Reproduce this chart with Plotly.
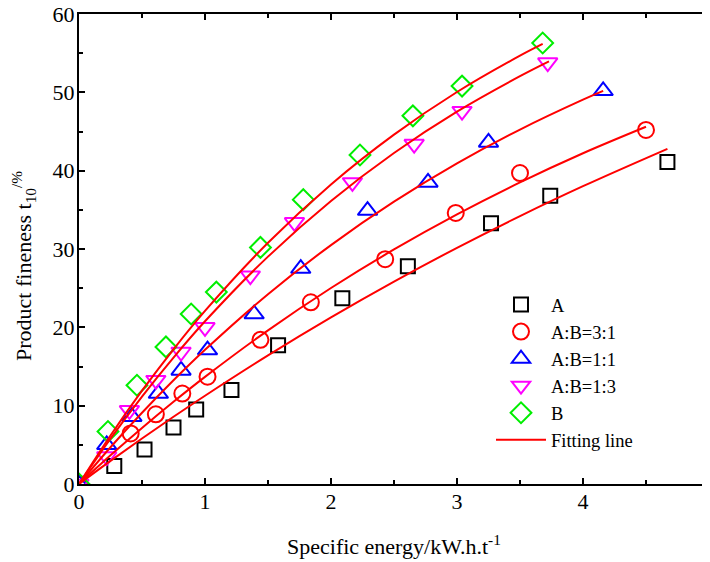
import plotly.graph_objects as go

# ---- data ----
a_x = [0, 0.28, 0.52, 0.75, 0.93, 1.21, 1.58, 2.09, 2.61, 3.27, 3.74, 4.67]
a_y = [0, 2.3, 4.4, 7.2, 9.5, 12.0, 17.7, 23.7, 27.8, 33.3, 36.8, 41.1]

ab31_x = [0, 0.41, 0.61, 0.82, 1.02, 1.44, 1.84, 2.43, 2.99, 3.50, 4.50]
ab31_y = [0, 6.45, 8.9, 11.55, 13.7, 18.4, 23.2, 28.7, 34.6, 39.7, 45.2]

ab11_x = [0, 0.22, 0.42, 0.63, 0.81, 1.02, 1.39, 1.76, 2.29, 2.77, 3.25, 4.16]
ab11_y = [0, 5.0, 8.6, 11.55, 14.5, 17.1, 21.7, 27.5, 34.9, 38.5, 43.6, 50.2]

ab13_x = [0, 0.22, 0.40, 0.61, 0.81, 1.00, 1.36, 1.71, 2.17, 2.66, 3.04, 3.72]
ab13_y = [0, 3.5, 9.4, 13.25, 16.85, 20.0, 26.6, 33.4, 38.5, 43.4, 47.6, 53.8]

b_x = [0, 0.23, 0.46, 0.69, 0.89, 1.09, 1.44, 1.78, 2.23, 2.65, 3.04, 3.68]
b_y = [0, 6.7, 12.6, 17.5, 21.7, 24.5, 30.2, 36.3, 42.0, 47.0, 50.8, 56.3]

# fitting lines
fit_a_x = [0, 0.25, 0.5, 0.75, 1, 1.5, 2, 2.5, 3, 3.5, 4, 4.67]
fit_a_y = [0, 2.95, 5.81, 8.58, 11.27, 16.42, 21.27, 25.84, 30.15, 34.20, 38.02, 42.79]

fit_ab31_x = [0, 0.25, 0.5, 0.75, 1, 1.5, 2, 2.5, 3, 3.5, 4, 4.5]
fit_ab31_y = [0, 3.66, 7.16, 10.50, 13.68, 19.62, 25.02, 29.94, 34.42, 38.50, 42.22, 45.60]

fit_ab11_x = [0, 0.25, 0.5, 0.75, 1, 1.5, 2, 2.5, 3, 3.5, 4, 4.16]
fit_ab11_y = [0, 4.69, 9.09, 13.24, 17.13, 24.23, 30.50, 36.04, 40.93, 45.25, 49.07, 50.19]

fit_ab13_x = [0, 0.25, 0.5, 0.75, 1, 1.5, 2, 2.5, 3, 3.5, 3.73]
fit_ab13_y = [0, 5.79, 11.16, 16.14, 20.77, 29.03, 36.14, 42.26, 47.53, 52.06, 53.95]

fit_b_x = [0, 0.25, 0.5, 0.75, 1, 1.5, 2, 2.5, 3, 3.5, 3.68]
fit_b_y = [0, 6.19, 11.91, 17.20, 22.10, 30.80, 38.24, 44.60, 50.04, 54.68, 56.18]

x_ticks = [0, 1, 2, 3, 4, 5]
y_ticks = [0, 10, 20, 30, 40, 50, 60]

x_title = "Specific energy/kW.h.t<sup>-1</sup>"
y_title = "Product fineness t<sub>10</sub><sup>/%</sup>"

FONT = "Liberation Serif, Times New Roman, serif"

fig = go.Figure()

series = [
    ("A", a_x, a_y, "square-open", "#000000", 14),
    ("A:B=3:1", ab31_x, ab31_y, "circle-open", "#ff0000", 16),
    ("A:B=1:1", ab11_x, ab11_y, "triangle-up-open", "#0000ff", 17),
    ("A:B=1:3", ab13_x, ab13_y, "triangle-down-open", "#ff00ff", 17),
    ("B", b_x, b_y, "diamond-open", "#00ee00", 16),
]
for i, (name, xs, ys, sym, col, sz) in enumerate(series):
    fig.add_trace(go.Scatter(
        x=xs, y=ys, mode="markers", name=name,
        marker=dict(symbol=sym, size=sz, color=col, line=dict(color=col, width=2)),
        legendrank=i + 1,
    ))

fits = [
    (fit_a_x, fit_a_y), (fit_ab31_x, fit_ab31_y), (fit_ab11_x, fit_ab11_y),
    (fit_ab13_x, fit_ab13_y), (fit_b_x, fit_b_y),
]
for i, (xs, ys) in enumerate(fits):
    fig.add_trace(go.Scatter(
        x=xs, y=ys, mode="lines", name="Fitting line",
        line=dict(color="#ff0000", width=2, shape="spline"),
        showlegend=(i == 0), legendrank=10,
    ))

axis_common = dict(
    showline=True, linecolor="#000000", linewidth=2, mirror="allticks",
    ticks="inside", ticklen=6, tickwidth=1.5, tickcolor="#000000",
    showgrid=False, zeroline=False, automargin=False,
    ticklabeloverflow="allow",
    tickfont=dict(family=FONT, size=22, color="#000000"),
)

fig.update_xaxes(
    range=[0, 5], tickvals=x_ticks, ticktext=[str(v) for v in x_ticks],
    minor=dict(ticks="inside", ticklen=4, dtick=0.5, tickcolor="#000000", tickwidth=1.5),
    ticklabelstandoff=-3,
    **axis_common,
)
fig.update_yaxes(
    range=[0, 60], tickvals=y_ticks, ticktext=[str(v) for v in y_ticks],
    minor=dict(ticks="inside", ticklen=4, dtick=5, tickcolor="#000000", tickwidth=1.5),
    ticklabelstandoff=-2,
    **axis_common,
)

# axis titles as annotations for exact placement (plot area: x 79..709, y 14..484 px)
fig.add_annotation(
    text=x_title, xref="paper", yref="paper", x=0.5, y=(484 - 545) / 470,
    xanchor="center", yanchor="middle", showarrow=False,
    font=dict(family=FONT, size=22, color="#000000"),
)
fig.add_annotation(
    text=y_title, xref="paper", yref="paper", x=(23 - 79) / 630, y=(484 - 266) / 470,
    xanchor="center", yanchor="middle", showarrow=False, textangle=-90,
    font=dict(family=FONT, size=22, color="#000000"),
)

# the page body has an 8px margin, so the figure is sized/margined to compensate
fig.update_layout(
    width=702, height=554,
    margin=dict(l=71, r=1, t=6, b=78),
    plot_bgcolor="#ffffff", paper_bgcolor="#ffffff",
    font=dict(family=FONT, color="#000000"),
    legend=dict(
        x=(491 - 79) / 630, y=(484 - 286) / 470, xanchor="left", yanchor="top",
        font=dict(family=FONT, size=18.5, color="#000000"),
        bgcolor="rgba(0,0,0,0)", itemwidth=50,
    ),
    showlegend=True,
)

fig.write_html("out.html")
